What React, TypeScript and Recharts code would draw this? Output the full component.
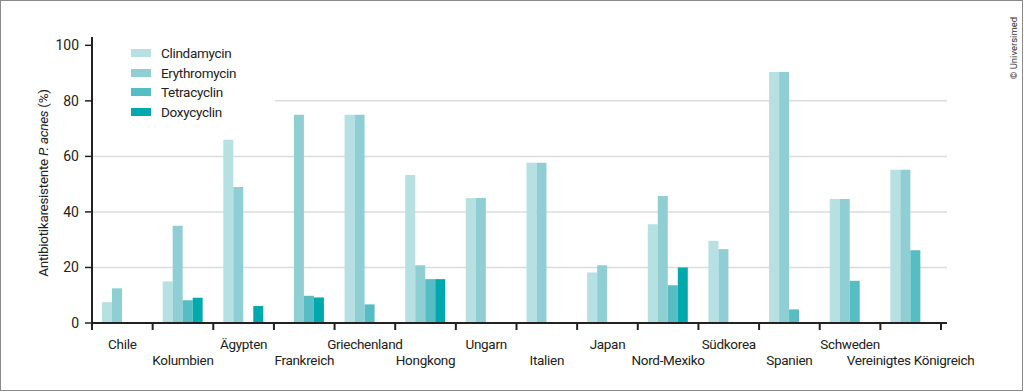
import React from 'react';
import { BarChart, Bar, XAxis, YAxis, CartesianGrid, Label } from 'recharts';

const countries = ['Chile', 'Kolumbien', 'Ägypten', 'Frankreich', 'Griechenland', 'Hongkong', 'Ungarn', 'Italien', 'Japan', 'Nord-Mexiko', 'Südkorea', 'Spanien', 'Schweden', 'Vereinigtes Königreich'];
const clindamycin = [7.5, 15, 66, null, 75, 53.3, 45, 57.7, 18.2, 35.6, 29.6, 90.4, 44.7, 55.2];
const erythromycin = [12.5, 35, 49, 75, 75, 20.8, 45, 57.7, 20.8, 45.7, 26.6, 90.4, 44.7, 55.2];
const tetracyclin = [null, 8.2, null, 9.8, 6.7, 15.8, null, null, null, 13.6, null, 4.9, 15.2, 26.2];
const doxycyclin = [null, 9.1, 6.1, 9.2, null, 15.8, null, null, null, 20, null, null, null, null];
const seriesKeys = ['clindamycin', 'erythromycin', 'tetracyclin', 'doxycyclin'];
const seriesNames = ['Clindamycin', 'Erythromycin', 'Tetracyclin', 'Doxycyclin'];
const seriesColors = ['#b6e0e1', '#8fcfd3', '#56bdc4', '#00a9ae'];
const yTicks = [0, 20, 40, 60, 80, 100];
const gridValues = [20, 40, 60, 80];

const data = countries.map((name, i) => ({
  name,
  clindamycin: clindamycin[i],
  erythromycin: erythromycin[i],
  tetracyclin: tetracyclin[i],
  doxycyclin: doxycyclin[i],
}));

const W = 1024;
const H = 392;
const X_AXIS_H = 30;
const MARGIN = { top: 37, right: 77, bottom: 69 - X_AXIS_H, left: 0 };
const Y_AXIS_W = 92;
const PAD_RIGHT = 6;
const BAND = (W - MARGIN.left - MARGIN.right - Y_AXIS_W - PAD_RIGHT) / countries.length;
const FONT = 'Roboto, "Open Sans", sans-serif';
const TEXT = '#222';

function XTick(props: any) {
  const { x, y, payload, index } = props;
  const row = index % 2;
  return (
    <g>
      <line x1={x - BAND / 2} x2={x - BAND / 2} y1={y} y2={y + 7} stroke={TEXT} strokeWidth={2} />
      {index === countries.length - 1 && (
        <line x1={x + BAND / 2} x2={x + BAND / 2} y1={y} y2={y + 7} stroke={TEXT} strokeWidth={2} />
      )}
      <text x={x} y={y + (row ? 42 : 26)} textAnchor="middle" fill={TEXT} fontSize={13.5} fontFamily={FONT} letterSpacing={-0.3}>
        {payload.value}
      </text>
    </g>
  );
}

function YTitle(props: any) {
  const vb = props.viewBox || { x: 0, y: 37, width: 92, height: 286 };
  const cy = vb.y + vb.height / 2 + 3;
  return (
    <text transform={`translate(48, ${cy}) rotate(-90)`} textAnchor="middle" fill={TEXT} fontSize={13.5} fontFamily={FONT} letterSpacing={-0.3}>
      Antibiotikaresistente <tspan fontStyle="italic">P. acnes</tspan> (%)
    </text>
  );
}

export default function App() {
  return (
    <div style={{ position: 'absolute', left: 0, top: 0, width: W, height: H, background: '#fff', fontFamily: FONT }}>
      <BarChart width={W} height={H} data={data} margin={MARGIN} barGap={0} barSize={10}>
        <CartesianGrid vertical={false} horizontalValues={gridValues} stroke="#dcdcdc" strokeWidth={1.5} />
        <XAxis
          dataKey="name"
          height={X_AXIS_H}
          interval={0}
          tickLine={false}
          tickSize={0}
          tickMargin={0}
          padding={{ left: 0, right: PAD_RIGHT }}
          axisLine={{ stroke: TEXT, strokeWidth: 2 }}
          tick={<XTick />}
        />
        <YAxis
          width={Y_AXIS_W}
          domain={[0, 103]}
          ticks={yTicks}
          interval={0}
          tickSize={7}
          tickMargin={6}
          axisLine={{ stroke: TEXT, strokeWidth: 2 }}
          tickLine={{ stroke: TEXT, strokeWidth: 1.5 }}
          tick={{ fill: TEXT, fontSize: 14, fontFamily: FONT }}
        >
          <Label content={<YTitle />} />
        </YAxis>
        {seriesKeys.map((k, i) => (
          <Bar key={k} dataKey={k} name={seriesNames[i]} fill={seriesColors[i]} isAnimationActive={false} />
        ))}
      </BarChart>
      <div style={{ position: 'absolute', left: 93, top: 38, width: 182, height: 86, background: '#fff' }}>
        {seriesNames.map((n, i) => (
          <div key={n} style={{ position: 'absolute', left: 38, top: 7 + i * 19.7, height: 16, display: 'flex', alignItems: 'center' }}>
            <span style={{ display: 'inline-block', width: 20, height: 8, background: seriesColors[i], marginRight: 10 }} />
            <span style={{ fontSize: 13.5, color: TEXT, letterSpacing: -0.3, lineHeight: '16px' }}>{n}</span>
          </div>
        ))}
      </div>
      <div
        style={{
          position: 'absolute',
          left: 1013,
          top: 48,
          transform: 'translate(-50%, -50%) rotate(-90deg)',
          fontSize: 9.5,
          color: '#333',
          whiteSpace: 'nowrap',
        }}
      >
        © Universimed
      </div>
      <div style={{ position: 'absolute', left: 0, top: 0, width: 1023, height: 391, border: '1px solid #8a8a8a', boxSizing: 'border-box', pointerEvents: 'none' }} />
    </div>
  );
}
